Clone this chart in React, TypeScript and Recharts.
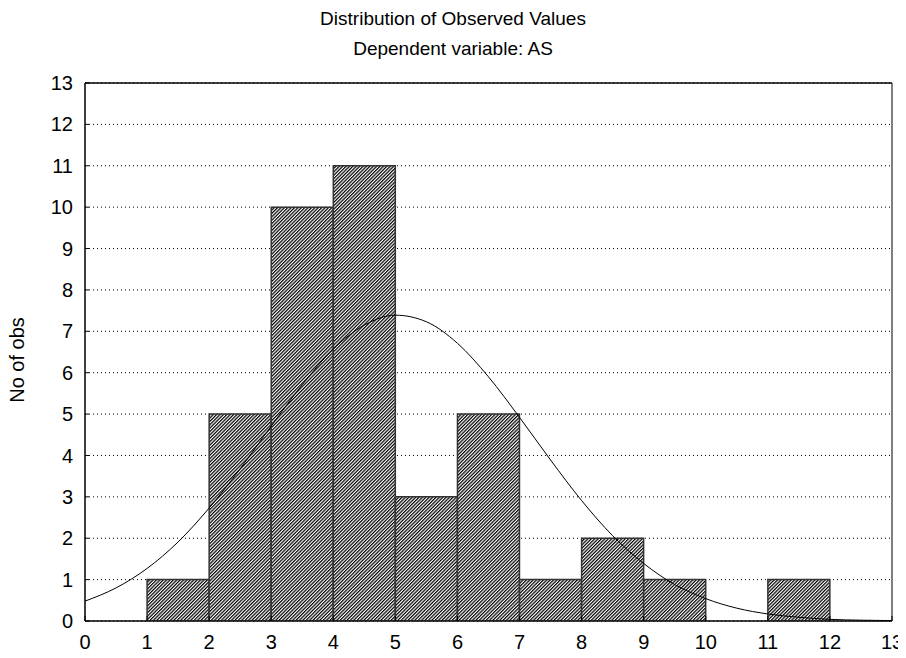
import * as React from 'react'
import {
  ComposedChart,
  Bar,
  Line,
  XAxis,
  YAxis,
  CartesianGrid,
  ReferenceArea,
} from 'recharts'

// histogram bins (centre of each 1-wide class) and counts
const binCenters = [0.5, 1.5, 2.5, 3.5, 4.5, 5.5, 6.5, 7.5, 8.5, 9.5, 10.5, 11.5, 12.5]
const counts = [0, 1, 5, 10, 11, 3, 5, 1, 2, 1, 0, 1, 0]

// expected normal curve
const curveX = [0, 0.5, 1, 1.5, 2, 2.5, 3, 3.5, 4, 4.5, 5, 5.5, 6, 6.5, 7, 7.5, 8, 8.5, 9, 9.5, 10, 10.5, 11, 11.5, 12, 12.5, 13]
const curveY = [0.48, 0.8, 1.27, 1.91, 2.73, 3.68, 4.71, 5.71, 6.57, 7.15, 7.39, 7.23, 6.71, 5.9, 4.92, 3.89, 2.91, 2.06, 1.39, 0.88, 0.54, 0.31, 0.17, 0.09, 0.04, 0.02, 0.01]

const xTicks = [0, 1, 2, 3, 4, 5, 6, 7, 8, 9, 10, 11, 12, 13]
const yTicks = [0, 1, 2, 3, 4, 5, 6, 7, 8, 9, 10, 11, 12, 13]

const FONT = 'Arial, "Liberation Sans", sans-serif'

const barData = binCenters.map((x, i) => ({ x, count: counts[i] }))
const curveData = curveX.map((x, i) => ({ x, expected: curveY[i] }))

export default function App() {
  return (
    <div style={{ position: 'relative', width: 898, height: 650, fontFamily: FONT }}>
      <div
        style={{
          position: 'absolute', left: 0, top: 1, width: 890, textAlign: 'center',
          fontSize: 19, lineHeight: '19px', color: '#000',
        }}
      >
        Distribution of Observed Values
      </div>
      <div
        style={{
          position: 'absolute', left: 0, top: 31, width: 890, textAlign: 'center',
          fontSize: 19, lineHeight: '19px', color: '#000',
        }}
      >
        Dependent variable: AS
      </div>
      <div
        style={{
          position: 'absolute', left: 9 - 60, top: 352 - 10, width: 120, textAlign: 'center',
          fontSize: 20, lineHeight: '20px', transform: 'rotate(-90deg)', color: '#000',
        }}
      >
        No of obs
      </div>
      <ComposedChart
        width={898}
        height={650}
        data={barData}
        margin={{ top: 75, right: 14, bottom: 7, left: 17 }}
        barCategoryGap={0}
        barGap={0}
      >
        <defs>
          <pattern id="hatch" patternUnits="userSpaceOnUse" width="2.4" height="2.4" patternTransform="rotate(45)">
            <rect width="2.4" height="2.4" fill="#fff" />
            <line x1="0.6" y1="0" x2="0.6" y2="2.4" stroke="#000" strokeWidth="1.25" />
          </pattern>
        </defs>
        <CartesianGrid vertical={false} stroke="#000" strokeDasharray="1 3" />
        <XAxis
          dataKey="x"
          type="number"
          domain={[0, 13]}
          ticks={xTicks}
          interval={0}
          allowDataOverflow
          axisLine={{ stroke: '#000' }}
          tickLine={{ stroke: '#000' }}
          tickSize={-5}
          tickMargin={19}
          tick={{ fill: '#000', fontSize: 20, fontFamily: FONT }}
        />
        <XAxis
          xAxisId="top"
          orientation="top"
          dataKey="x"
          type="number"
          domain={[0, 13]}
          ticks={xTicks}
          interval={0}
          mirror
          tick={false}
          tickSize={5}
          axisLine={{ stroke: '#000' }}
          tickLine={{ stroke: '#000' }}
        />
        <XAxis xAxisId="curve" dataKey="x" type="number" domain={[0, 13]} hide />
        <YAxis
          type="number"
          domain={[0, 13]}
          ticks={yTicks}
          interval={0}
          width={60}
          allowDataOverflow
          axisLine={{ stroke: '#000' }}
          tickLine={{ stroke: '#000' }}
          tickSize={-4}
          tickMargin={16}
          tick={{ fill: '#000', fontSize: 20, fontFamily: FONT }}
        />
        <Bar
          dataKey="count"
          fill="url(#hatch)"
          stroke="#333"
          strokeWidth={1.5}
          isAnimationActive={false}
        />
        <Line
          xAxisId="curve"
          data={curveData}
          dataKey="expected"
          type="monotone"
          stroke="#000"
          strokeWidth={1}
          dot={false}
          activeDot={false}
          isAnimationActive={false}
        />
        <ReferenceArea x1={0} x2={13} y1={0} y2={13} fill="none" stroke="#000" strokeWidth={1} ifOverflow="visible" />
      </ComposedChart>
    </div>
  )
}
